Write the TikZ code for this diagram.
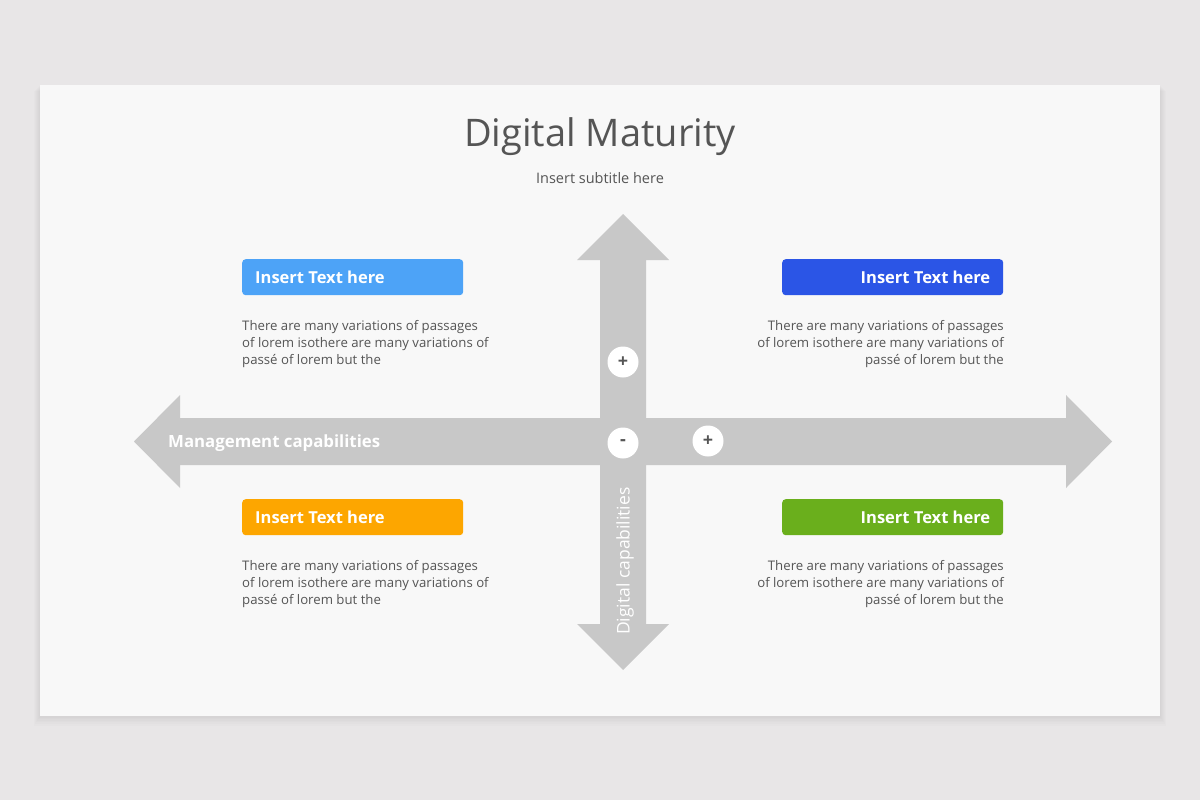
\documentclass[tikz,border=0pt]{standalone}
\usepackage{fontspec}
\setmainfont{Open Sans}
\definecolor{pagebg}{HTML}{E8E6E7}
\definecolor{slidebg}{HTML}{F8F8F8}
\definecolor{axisgray}{HTML}{C8C8C8}
\definecolor{darktext}{HTML}{555555}
\definecolor{skyblue}{HTML}{4DA3F7}
\definecolor{royalblue}{HTML}{2B55E6}
\definecolor{amber}{HTML}{FDA600}
\definecolor{leafgreen}{HTML}{6AAF1C}
\tikzset{
  headbox/.style={rounded corners=3.5pt, minimum width=221pt, minimum height=36pt, inner sep=0pt},
  headtext/.style={text=white, font=\fontsize{16.5}{20}\selectfont\bfseries, inner sep=0pt},
  bodytext/.style={text=darktext, font=\fontsize{13.2}{16.8}\selectfont, inner sep=0pt},
  sign/.style={circle, fill=white, minimum size=31pt, inner sep=0pt, text=darktext,
    font=\fontsize{18}{18}\selectfont\bfseries}
}
\begin{document}
\begin{tikzpicture}[x=1pt,y=-1pt]
 \useasboundingbox (0,0) rectangle (1200,800);
 \fill[pagebg] (0,0) rectangle (1200,800);
 % slide and its shadow
 \foreach \s in {1,...,6}
  \fill[black,opacity=0.012] (40-\s,85+\s) rectangle (1160+\s,716+1.6*\s);
 \fill[slidebg] (40,85) rectangle (1160,716);
 % title
 \node[text=darktext, font=\fontsize{38}{40}\selectfont] (title) at (600,137) {Digital Maturity};
 \node[text=darktext, font=\fontsize{14.5}{17}\selectfont] (subtitle) at (600,178) {Insert subtitle here};
 % axes
 \fill[axisgray] (623,214) -- (669,260) -- (646,260) -- (646,418) -- (1066,418) -- (1066,395)
   -- (1112,441.5) -- (1066,488) -- (1066,465) -- (646,465) -- (646,624) -- (669,624)
   -- (623,670) -- (577,624) -- (600,624) -- (600,465) -- (180,465) -- (180,488)
   -- (134,441.5) -- (180,395) -- (180,418) -- (600,418) -- (600,260) -- (577,260) -- cycle;
 \node[text=white, font=\fontsize{16.8}{20}\selectfont\bfseries, anchor=west, inner sep=0pt] (mgmt) at (168,443.5) {Management capabilities};
 \node[text=white, font=\fontsize{17.5}{20}\selectfont, rotate=90, anchor=west, inner sep=0pt] (digi) at (625,635) {Digital capabilities};
 \node[sign] (plusup) at (623,362) {+};
 \node[sign] (minus) at (623,443) {-};
 \node[sign] (plusright) at (708,441) {+};
 % quadrants
 \node[headbox, fill=skyblue, anchor=north west] (boxa) at (242,259) {};
 \node[headtext, anchor=west] at ([xshift=13pt]boxa.west) {Insert Text here};
 \node[headbox, fill=royalblue, anchor=north west] (boxb) at (782,259) {};
 \node[headtext, anchor=east] at ([xshift=-13pt]boxb.east) {Insert Text here};
 \node[headbox, fill=amber, anchor=north west] (boxc) at (242,499) {};
 \node[headtext, anchor=west] at ([xshift=13pt]boxc.west) {Insert Text here};
 \node[headbox, fill=leafgreen, anchor=north west] (boxd) at (782,499) {};
 \node[headtext, anchor=east] at ([xshift=-13pt]boxd.east) {Insert Text here};
 \node[bodytext, align=left, anchor=north west] (texta) at (242,320.5)
   {There are many variations of passages\\of lorem isothere are many variations of\\passé of lorem but the};
 \node[bodytext, align=right, anchor=north east] (textb) at (1004,320.5)
   {There are many variations of passages\\of lorem isothere are many variations of\\passé of lorem but the};
 \node[bodytext, align=left, anchor=north west] (textc) at (242,560.5)
   {There are many variations of passages\\of lorem isothere are many variations of\\passé of lorem but the};
 \node[bodytext, align=right, anchor=north east] (textd) at (1004,560.5)
   {There are many variations of passages\\of lorem isothere are many variations of\\passé of lorem but the};
\end{tikzpicture}
\end{document}
